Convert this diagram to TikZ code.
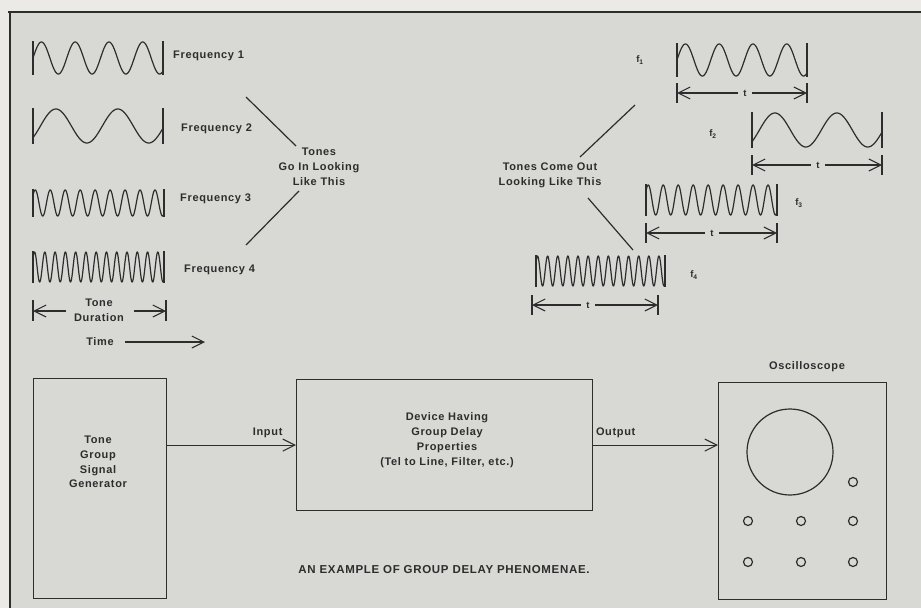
\documentclass[tikz,border=0pt]{standalone}
\usepackage{fontspec}
\setmainfont{Liberation Sans}[LetterSpace=6]
\usetikzlibrary{arrows.meta}
\definecolor{paper}{RGB}{216,216,213}
\definecolor{ink}{RGB}{45,45,45}
\definecolor{margincol}{RGB}{236,234,230}
\newcommand\wavy[6]{% x0, x1, yc, A, cycles, phase
  \draw[wave] plot[domain=0:1,samples=500] ({#1+(#2-#1)*\x},{#3-#4*sin(360*(#5*\x+#6))});
  \draw[wave] (#1,#3-#4-1) -- (#1,#3+#4+1) (#2,#3-#4-1) -- (#2,#3+#4+1);}
\begin{document}
\begin{tikzpicture}[x=1pt,y=-1pt,
  inkline/.style={draw=ink, line width=1.2pt},
  wave/.style={draw=ink, line width=1.2pt, line join=round},
  arr/.style={inkline, -{Straight Barb[length=12pt,width=12pt,line width=1.1pt]}},
  lab/.style={text=ink, font=\fontsize{11}{14.8}\selectfont\bfseries, inner sep=0pt, align=center},
  captext/.style={text=ink, font=\fontsize{11.5}{14}\selectfont\bfseries, inner sep=0pt},
  small/.style={text=ink, font=\fontsize{9.5}{10}\selectfont\bfseries, inner sep=0pt},
  box/.style={inkline, inner sep=0pt, anchor=north west},
  knob/.style={circle, inkline, minimum size=9pt, inner sep=0pt}]
% background
\fill[margincol] (0,0) rectangle (921,608);
\fill[paper] (10,12) rectangle (921,608);
\useasboundingbox (0,0) rectangle (921,608);
\draw[ink, line width=2.5pt] (8,12) -- (921,12);
\draw[ink, line width=2.5pt] (10,12) -- (10,608);

% ---- input tones ----
\wavy{33}{163}{58}{16}{3.85}{0}
\wavy{33}{163}{126}{17}{2.1}{-0.12}
\wavy{33}{164}{203}{13}{8.75}{0.1}
\wavy{33}{164}{267}{15}{12.75}{0.1}
\node[lab, anchor=west] (fq1) at (173,56) {Frequency 1};
\node[lab, anchor=west] (fq2) at (181,129) {Frequency 2};
\node[lab, anchor=west] (fq3) at (180,199) {Frequency 3};
\node[lab, anchor=west] (fq4) at (184,270) {Frequency 4};

% tone duration
\node[lab] (tonedur) at (99,310) {Tone\\Duration};
\draw[inkline] (33,300) -- (33,321) (166,300) -- (166,321);
\coordinate (tdL) at (33,311);
\coordinate (tdR) at (166,311);
\coordinate (tdLs) at (66,311);
\coordinate (tdRs) at (134,311);
\draw[arr] (tdLs) -- (tdL);
\draw[arr] (tdRs) -- (tdR);

% time
\node[lab] (time) at (100,342) {Time};
\coordinate (timeS) at (125,342);
\coordinate (timeE) at (205,342);
\draw[arr] (timeS) -- (timeE);

% tones go in
\node[lab] (goin) at (319,167) {Tones\\Go In Looking\\Like This};
\coordinate (d1a) at (246,97);
\coordinate (d1b) at (296,146);
\coordinate (d2a) at (299,191);
\coordinate (d2b) at (246,245);
\draw[inkline] (d1a) -- (d1b);
\draw[inkline] (d2a) -- (d2b);

% ---- output tones ----
\node[lab] (comeout) at (550,175) {Tones Come Out\\Looking Like This};
\coordinate (d3a) at (635,105);
\coordinate (d3b) at (580,157);
\coordinate (d4a) at (588,198);
\coordinate (d4b) at (633,250);
\draw[inkline] (d3a) -- (d3b);
\draw[inkline] (d4a) -- (d4b);

\wavy{677}{807}{60}{16}{3.85}{0}
\wavy{752}{882}{130}{17}{2.1}{-0.12}
\wavy{646}{777}{200}{15}{8.75}{0.1}
\wavy{536}{665}{271}{15}{12.75}{0.1}

\node[small] (f1) at (640,60) {f\textsubscript{1}};
\node[small] (f2) at (713,134) {f\textsubscript{2}};
\node[small] (f3) at (799,203) {f\textsubscript{3}};
\node[small] (f4) at (694,275) {f\textsubscript{4}};

% t dimension arrows
\foreach \n/\xl/\xr/\xt/\yy in {1/677/807/745/93, 2/752/882/818/165, 3/646/777/712/233, 4/532/658/588/305}{
  \node[small] (t\n) at (\xt,\yy) {t};
  \draw[inkline] (\xl,\yy-10) -- (\xl,\yy+10) (\xr,\yy-10) -- (\xr,\yy+10);
  \coordinate (t\n L) at (\xl,\yy);
  \coordinate (t\n R) at (\xr,\yy);
  \draw[arr] ([xshift=-7pt]t\n.center) -- (t\n L);
  \draw[arr] ([xshift=7pt]t\n.center) -- (t\n R);
}

% ---- block diagram ----
\node[box, minimum width=133pt, minimum height=220pt] (gen) at (33,378) {};
\node[box, minimum width=296pt, minimum height=131pt] (dev) at (296,379) {};
\node[box, minimum width=168pt, minimum height=217pt] (scope) at (718,382) {};
\node[lab] (gentext) at (98,462) {Tone\\Group\\Signal\\Generator};
\node[lab] (devtext) at (447,440) {Device Having\\Group Delay\\Properties\\(Tel to Line, Filter, etc.)};
\node[lab] (scopelab) at (807,367) {Oscilloscope};
\draw[arr] (gen.east |- dev.west) -- node[lab, pos=0.78, above=7pt] (inlab) {Input} (dev.west);
\draw[arr] (dev.east) -- node[lab, pos=0.18, above=7pt] (outlab) {Output} (scope.west |- dev.east);

\node[circle, inkline, minimum size=86pt, inner sep=0pt] (screen) at (790,452) {};
\node[knob] (k1) at (853,482) {};
\node[knob] (k2) at (748,521) {};
\node[knob] (k3) at (801,521) {};
\node[knob] (k4) at (853,521) {};
\node[knob] (k5) at (748,562) {};
\node[knob] (k6) at (801,562) {};
\node[knob] (k7) at (853,562) {};

\node[captext] (caption) at (444,570) {AN EXAMPLE OF GROUP DELAY PHENOMENAE.};
\end{tikzpicture}
\end{document}
